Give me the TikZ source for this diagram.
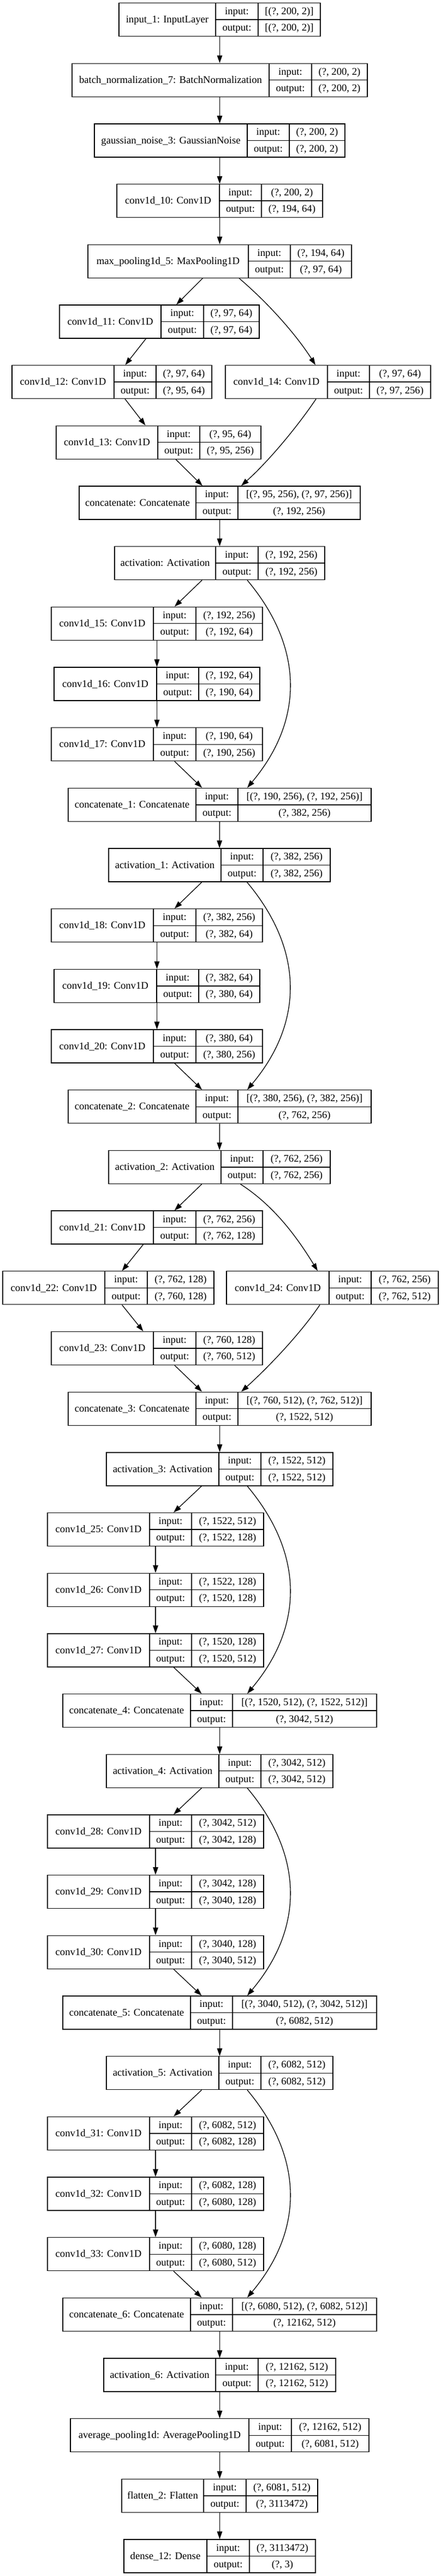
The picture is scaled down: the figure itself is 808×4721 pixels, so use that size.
\documentclass[tikz,border=0pt]{standalone}
\usepackage{fontspec}
\setmainfont{Liberation Serif}
\usepackage{tikz}
\usetikzlibrary{arrows.meta}

% layer record: name, left, split1, split2, right, row, title, input, output
\newcommand{\layerbox}[9]{%
	\pgfmathsetmacro{\ytop}{5.5+110.68*#6}
	\node[layer, minimum width={(#5-#2)*1pt}] (#1) at ({(#2+#5)/2},{\ytop+30.5}) {};
	\draw[cell] ({#3},{\ytop}) -- ({#3},{\ytop+61}) ({#4},{\ytop}) -- ({#4},{\ytop+61}) ({#3},{\ytop+30.5}) -- ({#5},{\ytop+30.5});
	\node[txt] (#1-t) at ({(#2+#3)/2},{\ytop+30.5}) {#7};
	\node[txt] (#1-il) at ({(#3+#4)/2},{\ytop+15.25}) {input:};
	\node[txt] (#1-iv) at ({(#4+#5)/2},{\ytop+15.25}) {#8};
	\node[txt] (#1-ol) at ({(#3+#4)/2},{\ytop+45.75}) {output:};
	\node[txt] (#1-ov) at ({(#4+#5)/2},{\ytop+45.75}) {#9};
}

\begin{document}
\begin{tikzpicture}[x=1pt, y=-1pt,
	layer/.style={draw, rectangle, line width=1.3pt, inner sep=0pt, minimum height=61pt},
	cell/.style={line width=1.3pt},
	txt/.style={inner sep=0pt, font=\fontsize{18.67pt}{22pt}\selectfont, text height=15.4pt, text depth=4pt},
	arr/.style={line width=1.3pt, -{Triangle[length=14pt, width=9.5pt]}}]
	\useasboundingbox (0,0) rectangle (808,4721);
	% Nodes
	\layerbox{in1}{218}{395}{473}{587}{0}{input\_1: InputLayer}{[(?, 200, 2)]}{[(?, 200, 2)]}
	\layerbox{bn7}{132}{493}{571}{673}{1}{batch\_normalization\_7: BatchNormalization}{(?, 200, 2)}{(?, 200, 2)}
	\layerbox{gn3}{173}{453}{530}{632}{2}{gaussian\_noise\_3: GaussianNoise}{(?, 200, 2)}{(?, 200, 2)}
	\layerbox{c10}{214}{402}{479}{591}{3}{conv1d\_10: Conv1D}{(?, 200, 2)}{(?, 194, 64)}
	\layerbox{mp5}{161}{455}{532}{644}{4}{max\_pooling1d\_5: MaxPooling1D}{(?, 194, 64)}{(?, 97, 64)}
	\layerbox{c11}{109}{295}{373}{475}{5}{conv1d\_11: Conv1D}{(?, 97, 64)}{(?, 97, 64)}
	\layerbox{c12}{22}{209}{286}{388}{6}{conv1d\_12: Conv1D}{(?, 97, 64)}{(?, 95, 64)}
	\layerbox{c14}{413}{600}{677}{789}{6}{conv1d\_14: Conv1D}{(?, 97, 64)}{(?, 97, 256)}
	\layerbox{c13}{103}{289}{366}{478}{7}{conv1d\_13: Conv1D}{(?, 95, 64)}{(?, 95, 256)}
	\layerbox{cat}{145}{359}{436}{660}{8}{concatenate: Concatenate}{[(?, 95, 256), (?, 97, 256)]}{(?, 192, 256)}
	\layerbox{act}{210}{395}{473}{595}{9}{activation: Activation}{(?, 192, 256)}{(?, 192, 256)}
	\layerbox{c15}{94}{281}{359}{481}{10}{conv1d\_15: Conv1D}{(?, 192, 256)}{(?, 192, 64)}
	\layerbox{c16}{99}{287}{364}{476}{11}{conv1d\_16: Conv1D}{(?, 192, 64)}{(?, 190, 64)}
	\layerbox{c17}{94}{281}{359}{481}{12}{conv1d\_17: Conv1D}{(?, 190, 64)}{(?, 190, 256)}
	\layerbox{cat1}{125}{359}{436}{680}{13}{concatenate\_1: Concatenate}{[(?, 190, 256), (?, 192, 256)]}{(?, 382, 256)}
	\layerbox{act1}{199}{405}{482}{605}{14}{activation\_1: Activation}{(?, 382, 256)}{(?, 382, 256)}
	\layerbox{c18}{94}{281}{359}{481}{15}{conv1d\_18: Conv1D}{(?, 382, 256)}{(?, 382, 64)}
	\layerbox{c19}{99}{287}{364}{476}{16}{conv1d\_19: Conv1D}{(?, 382, 64)}{(?, 380, 64)}
	\layerbox{c20}{94}{281}{359}{481}{17}{conv1d\_20: Conv1D}{(?, 380, 64)}{(?, 380, 256)}
	\layerbox{cat2}{125}{359}{436}{680}{18}{concatenate\_2: Concatenate}{[(?, 380, 256), (?, 382, 256)]}{(?, 762, 256)}
	\layerbox{act2}{199}{405}{482}{605}{19}{activation\_2: Activation}{(?, 762, 256)}{(?, 762, 256)}
	\layerbox{c21}{94}{281}{359}{481}{20}{conv1d\_21: Conv1D}{(?, 762, 256)}{(?, 762, 128)}
	\layerbox{c22}{5}{192}{270}{392}{21}{conv1d\_22: Conv1D}{(?, 762, 128)}{(?, 760, 128)}
	\layerbox{c24}{415}{603}{680}{803}{21}{conv1d\_24: Conv1D}{(?, 762, 256)}{(?, 762, 512)}
	\layerbox{c23}{94}{281}{359}{481}{22}{conv1d\_23: Conv1D}{(?, 760, 128)}{(?, 760, 512)}
	\layerbox{cat3}{125}{359}{436}{680}{23}{concatenate\_3: Concatenate}{[(?, 760, 512), (?, 762, 512)]}{(?, 1522, 512)}
	\layerbox{act3}{195}{401}{478}{610}{24}{activation\_3: Activation}{(?, 1522, 512)}{(?, 1522, 512)}
	\layerbox{c25}{87}{274}{351}{483}{25}{conv1d\_25: Conv1D}{(?, 1522, 512)}{(?, 1522, 128)}
	\layerbox{c26}{87}{274}{351}{483}{26}{conv1d\_26: Conv1D}{(?, 1522, 128)}{(?, 1520, 128)}
	\layerbox{c27}{87}{274}{351}{483}{27}{conv1d\_27: Conv1D}{(?, 1520, 128)}{(?, 1520, 512)}
	\layerbox{cat4}{115}{349}{426}{690}{28}{concatenate\_4: Concatenate}{[(?, 1520, 512), (?, 1522, 512)]}{(?, 3042, 512)}
	\layerbox{act4}{195}{401}{478}{610}{29}{activation\_4: Activation}{(?, 3042, 512)}{(?, 3042, 512)}
	\layerbox{c28}{87}{274}{351}{483}{30}{conv1d\_28: Conv1D}{(?, 3042, 512)}{(?, 3042, 128)}
	\layerbox{c29}{87}{274}{351}{483}{31}{conv1d\_29: Conv1D}{(?, 3042, 128)}{(?, 3040, 128)}
	\layerbox{c30}{87}{274}{351}{483}{32}{conv1d\_30: Conv1D}{(?, 3040, 128)}{(?, 3040, 512)}
	\layerbox{cat5}{115}{349}{426}{690}{33}{concatenate\_5: Concatenate}{[(?, 3040, 512), (?, 3042, 512)]}{(?, 6082, 512)}
	\layerbox{act5}{195}{401}{478}{610}{34}{activation\_5: Activation}{(?, 6082, 512)}{(?, 6082, 512)}
	\layerbox{c31}{87}{274}{351}{483}{35}{conv1d\_31: Conv1D}{(?, 6082, 512)}{(?, 6082, 128)}
	\layerbox{c32}{87}{274}{351}{483}{36}{conv1d\_32: Conv1D}{(?, 6082, 128)}{(?, 6080, 128)}
	\layerbox{c33}{87}{274}{351}{483}{37}{conv1d\_33: Conv1D}{(?, 6080, 128)}{(?, 6080, 512)}
	\layerbox{cat6}{115}{349}{426}{690}{38}{concatenate\_6: Concatenate}{[(?, 6080, 512), (?, 6082, 512)]}{(?, 12162, 512)}
	\layerbox{act6}{190}{395}{473}{615}{39}{activation\_6: Activation}{(?, 12162, 512)}{(?, 12162, 512)}
	\layerbox{ap}{129}{456}{534}{676}{40}{average\_pooling1d: AveragePooling1D}{(?, 12162, 512)}{(?, 6081, 512)}
	\layerbox{fl2}{223}{373}{451}{582}{41}{flatten\_2: Flatten}{(?, 6081, 512)}{(?, 3113472)}
	\layerbox{d12}{227}{379}{457}{578}{42}{dense\_12: Dense}{(?, 3113472)}{(?, 3)}
	% Edges
	\draw[arr] (in1) -- (bn7);
	\draw[arr] (bn7) -- (gn3);
	\draw[arr] (gn3) -- (c10);
	\draw[arr] (c10) -- (mp5);
	\draw[arr] (mp5) -- (c11);
	\draw[arr] (c11) -- (c12);
	\draw[arr] (c12) -- (c13);
	\draw[arr] (c13) -- (cat);
	\draw[arr] ([xshift=35.5pt]mp5.south) .. controls +(55,47) and +(-35,-55) .. ([xshift=-23pt]c14.north);
	\draw[arr] ([xshift=-22pt]c14.south) .. controls +(-35,52) and +(50,-45) .. ([xshift=39.5pt]cat.north);
	\draw[arr] (cat) -- (act);
	\draw[arr] (act) -- (c15);
	\draw[arr] (c15) -- (c16);
	\draw[arr] (c16) -- (c17);
	\draw[arr] (c17) -- (cat1);
	\draw[arr] ([xshift=50.5pt]act.south) .. controls +(104,124) and +(104,-124) .. ([xshift=50.5pt]cat1.north);
	\draw[arr] (cat1) -- (act1);
	\draw[arr] (act1) -- (c18);
	\draw[arr] (c18) -- (c19);
	\draw[arr] (c19) -- (c20);
	\draw[arr] (c20) -- (cat2);
	\draw[arr] ([xshift=50.5pt]act1.south) .. controls +(104,124) and +(104,-124) .. ([xshift=50.5pt]cat2.north);
	\draw[arr] (cat2) -- (act2);
	\draw[arr] (act2) -- (c21);
	\draw[arr] (c21) -- (c22);
	\draw[arr] (c22) -- (c23);
	\draw[arr] (c23) -- (cat3);
	\draw[arr] ([xshift=38.5pt]act2.south) .. controls +(62,40) and +(-38,-62) .. ([xshift=-27pt]c24.north);
	\draw[arr] ([xshift=-23pt]c24.south) .. controls +(-35,52) and +(50,-45) .. ([xshift=39.5pt]cat3.north);
	\draw[arr] (cat3) -- (act3);
	\draw[arr] (act3) -- (c25);
	\draw[arr] (c25) -- (c26);
	\draw[arr] (c26) -- (c27);
	\draw[arr] (c27) -- (cat4);
	\draw[arr] ([xshift=50.5pt]act3.south) .. controls +(104,124) and +(104,-124) .. ([xshift=50.5pt]cat4.north);
	\draw[arr] (cat4) -- (act4);
	\draw[arr] (act4) -- (c28);
	\draw[arr] (c28) -- (c29);
	\draw[arr] (c29) -- (c30);
	\draw[arr] (c30) -- (cat5);
	\draw[arr] ([xshift=50.5pt]act4.south) .. controls +(104,124) and +(104,-124) .. ([xshift=50.5pt]cat5.north);
	\draw[arr] (cat5) -- (act5);
	\draw[arr] (act5) -- (c31);
	\draw[arr] (c31) -- (c32);
	\draw[arr] (c32) -- (c33);
	\draw[arr] (c33) -- (cat6);
	\draw[arr] ([xshift=50.5pt]act5.south) .. controls +(104,124) and +(104,-124) .. ([xshift=50.5pt]cat6.north);
	\draw[arr] (cat6) -- (act6);
	\draw[arr] (act6) -- (ap);
	\draw[arr] (ap) -- (fl2);
	\draw[arr] (fl2) -- (d12);
\end{tikzpicture}
\end{document}
